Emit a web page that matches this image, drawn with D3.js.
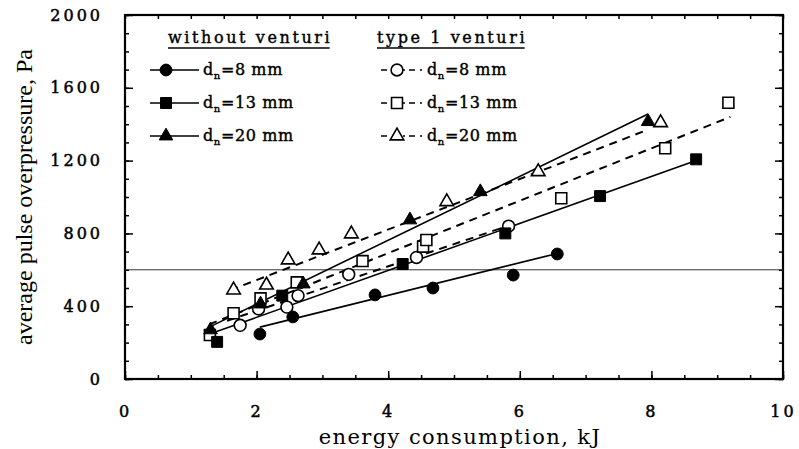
<!DOCTYPE html>
<html lang="en">
  <head>
    <meta charset="utf-8" />
    <title>Pulse overpressure vs energy consumption</title>
    <script src="https://d3js.org/d3.v7.min.js"></script>
    <style>
      body {
        margin: 0;
        background: #fff;
      }

      text {
        font-family: "DejaVu Serif", serif;
        fill: #000;
      }

      .tick text {
        font-size: 16px;
        letter-spacing: 3px;
        stroke: #000;
        stroke-width: 0.5px;
      }

      .axis-title-y {
        font-family: "Liberation Serif", serif;
        font-size: 24px;
      }

      .axis-title-x {
        font-size: 21px;
        letter-spacing: 1.4px;
      }

      .legend text {
        font-size: 16px;
        letter-spacing: 0.6px;
        stroke: #000;
        stroke-width: 0.4px;
      }

      .legend text.header {
        letter-spacing: 2.6px;
      }

      path.fit {
        fill: none;
        stroke: #000;
        stroke-width: 1.6px;
      }

      path.fit.dashed {
        stroke-width: 2px;
        stroke-dasharray: 8, 6;
      }
    </style>
  </head>
  <body>
    <svg id="chart" width="799" height="449"></svg>

    <script>
      // --------------------------------------------------
      // 1. Data  [energy kJ, overpressure Pa]
      // --------------------------------------------------
      const xTicks = [0, 2, 4, 6, 8, 10];
      const yTicks = [0, 400, 800, 1200, 1600, 2000];

      // without venturi
      const noVent8 = [[2.05, 247], [2.55, 341], [3.8, 462], [4.68, 500], [5.9, 571], [6.57, 687]];
      const noVent13 = [[1.4, 204], [2.39, 458], [4.22, 632], [5.78, 800], [7.22, 1005], [8.68, 1207]];
      const noVent20 = [[1.3, 270], [2.06, 412], [2.71, 522], [4.33, 874], [5.4, 1029], [7.95, 1414]];

      // type 1 venturi
      const vent8 = [[1.75, 295], [2.03, 385], [2.46, 395], [2.63, 458], [3.4, 575], [4.43, 668], [5.83, 840]];
      const vent13 = [[1.29, 242], [1.65, 361], [2.06, 443], [2.61, 531], [3.61, 648], [4.53, 727], [4.58, 764], [6.63, 993], [8.21, 1268], [9.17, 1518]];
      const vent20 = [[1.65, 489], [2.15, 516], [2.48, 654], [2.95, 709], [3.44, 797], [4.89, 974], [6.28, 1139], [8.14, 1408]];

      // fitted lines (end points)
      const fitNoVent8 = [[2.05, 285], [6.57, 690]];
      const fitNoVent13 = [[1.35, 255], [8.68, 1200]];
      const fitNoVent20 = [[1.28, 285], [7.95, 1456]];
      const fitVent8 = [[1.55, 320], [5.85, 845]];
      const fitVent13 = [[1.28, 300], [9.2, 1440]];
      const fitVent20 = [[1.6, 488], [7.95, 1370]];

      // thin reference line
      const refLevel = 600;

      const seriesNames = ["8 mm", "13 mm", "20 mm"];

      // --------------------------------------------------
      // 2. Scales
      // --------------------------------------------------
      const svg = d3.select("#chart");
      const plotLeft = 125, plotRight = 783, plotTop = 15, plotBottom = 379;

      const x = d3.scaleLinear().domain([0, 10]).range([plotLeft, plotRight]);
      const y = d3.scaleLinear().domain([0, 2000]).range([plotBottom, plotTop]);

      // --------------------------------------------------
      // 3. Axes (ticks point inward on all four sides)
      // --------------------------------------------------
      function clean(g) {
        g.select(".domain").remove();
        g.selectAll("line").attr("stroke", "#000").attr("stroke-width", 1.5);
      }

      svg.append("g")
        .attr("transform", `translate(0,${plotBottom})`)
        .call(d3.axisBottom(x).tickValues(d3.range(0, 10.01, 0.5)).tickSize(-4).tickFormat(""))
        .call(clean);
      svg.append("g")
        .attr("transform", `translate(0,${plotBottom})`)
        .call(d3.axisBottom(x).tickValues(xTicks).tickSize(-8).tickPadding(27).tickFormat(d3.format("d")))
        .call(clean);
      svg.append("g")
        .attr("transform", `translate(0,${plotTop})`)
        .call(d3.axisTop(x).tickValues(d3.range(0, 10.01, 0.5)).tickSize(-4).tickFormat(""))
        .call(clean);

      svg.append("g")
        .attr("transform", `translate(${plotLeft},0)`)
        .call(d3.axisLeft(y).tickValues(d3.range(0, 2001, 100)).tickSize(-4).tickFormat(""))
        .call(clean);
      svg.append("g")
        .attr("transform", `translate(${plotLeft},0)`)
        .call(d3.axisLeft(y).tickValues(yTicks).tickSize(-8).tickPadding(22).tickFormat(d3.format("d")))
        .call(clean);
      svg.append("g")
        .attr("transform", `translate(${plotRight},0)`)
        .call(d3.axisRight(y).tickValues(d3.range(0, 2001, 100)).tickSize(-4).tickFormat(""))
        .call(clean);
      svg.append("g")
        .attr("transform", `translate(${plotRight},0)`)
        .call(d3.axisRight(y).tickValues(yTicks).tickSize(-8).tickFormat(""))
        .call(clean);

      svg.selectAll(".tick text").attr("font-family", null).attr("font-size", null);

      // frame
      svg.append("rect")
        .attr("x", plotLeft)
        .attr("y", plotTop)
        .attr("width", plotRight - plotLeft)
        .attr("height", plotBottom - plotTop)
        .attr("fill", "none")
        .attr("stroke", "#000")
        .attr("stroke-width", 2.2);

      // axis titles
      svg.append("text")
        .attr("class", "axis-title-x")
        .attr("x", 460)
        .attr("y", 444)
        .attr("text-anchor", "middle")
        .text("energy consumption, kJ");

      svg.append("text")
        .attr("class", "axis-title-y")
        .attr("transform", `translate(32,${(plotTop + plotBottom) / 2}) rotate(-90)`)
        .attr("text-anchor", "middle")
        .text("average pulse overpressure, Pa");

      // --------------------------------------------------
      // 4. Reference line + fitted lines
      // --------------------------------------------------
      svg.append("line")
        .attr("x1", x(0))
        .attr("x2", x(10))
        .attr("y1", y(refLevel))
        .attr("y2", y(refLevel))
        .attr("stroke", "#333")
        .attr("stroke-width", 1);

      const line = d3.line().x((d) => x(d[0])).y((d) => y(d[1]));

      const fits = [
        { pts: fitNoVent8, dashed: false },
        { pts: fitNoVent13, dashed: false },
        { pts: fitNoVent20, dashed: false },
        { pts: fitVent8, dashed: true },
        { pts: fitVent13, dashed: true },
        { pts: fitVent20, dashed: true }
      ];

      svg.selectAll("path.fit")
        .data(fits)
        .enter()
        .append("path")
        .attr("class", (d) => (d.dashed ? "fit dashed" : "fit"))
        .attr("d", (d) => line(d.pts));

      // --------------------------------------------------
      // 5. Markers
      // --------------------------------------------------
      const shapes = [d3.symbolCircle, d3.symbolSquare, d3.symbolTriangle];
      const sizes = [110, 120, 80];

      const groups = [
        { pts: vent8, shape: 0, filled: false },
        { pts: vent13, shape: 1, filled: false },
        { pts: vent20, shape: 2, filled: false },
        { pts: noVent8, shape: 0, filled: true },
        { pts: noVent13, shape: 1, filled: true },
        { pts: noVent20, shape: 2, filled: true }
      ];

      function drawMarker(sel, shape, filled) {
        sel.attr("d", d3.symbol().type(shapes[shape]).size(sizes[shape]))
          .attr("fill", filled ? "#000" : "#fff")
          .attr("stroke", "#000")
          .attr("stroke-width", filled ? 1 : 1.6);
      }

      groups.forEach((g) => {
        svg.append("g")
          .selectAll("path")
          .data(g.pts)
          .enter()
          .append("path")
          .attr("transform", (d) => `translate(${x(d[0])},${y(d[1])})`)
          .call(drawMarker, g.shape, g.filled);
      });

      // --------------------------------------------------
      // 6. Legend
      // --------------------------------------------------
      const legend = svg.append("g").attr("class", "legend");

      const headers = [
        { label: "without venturi", x: 168 },
        { label: "type 1 venturi", x: 377 }
      ];

      headers.forEach((h) => {
        const t = legend.append("text")
          .attr("class", "header")
          .attr("x", h.x)
          .attr("y", 43)
          .text(h.label);
        const w = t.node().getComputedTextLength() - 2.6;
        legend.append("line")
          .attr("x1", h.x)
          .attr("x2", h.x + w)
          .attr("y1", 48)
          .attr("y2", 48)
          .attr("stroke", "#000")
          .attr("stroke-width", 1.3);
      });

      const rowY = [70, 103, 136];

      seriesNames.forEach((name, i) => {
        const yy = rowY[i];

        // without venturi: solid line + filled marker
        legend.append("line")
          .attr("x1", 150).attr("x2", 199)
          .attr("y1", yy).attr("y2", yy)
          .attr("stroke", "#000").attr("stroke-width", 1.4);
        legend.append("path")
          .attr("transform", `translate(166,${yy})`)
          .call(drawMarker, i, true);

        // type 1 venturi: dashed line + open marker
        legend.append("line")
          .attr("x1", 381).attr("x2", 422)
          .attr("y1", yy).attr("y2", yy)
          .attr("stroke", "#000").attr("stroke-width", 1.6)
          .attr("stroke-dasharray", "6,5,6,5,2,4");
        legend.append("path")
          .attr("transform", `translate(397,${yy})`)
          .call(drawMarker, i, false);

        [203, 427].forEach((tx) => {
          const t = legend.append("text").attr("x", tx).attr("y", yy + 5);
          t.append("tspan").text("d");
          t.append("tspan").attr("font-size", "10px").attr("dy", 4).text("n");
          t.append("tspan").attr("dy", -4).text("=" + name);
        });
      });
    </script>
  </body>
</html>
